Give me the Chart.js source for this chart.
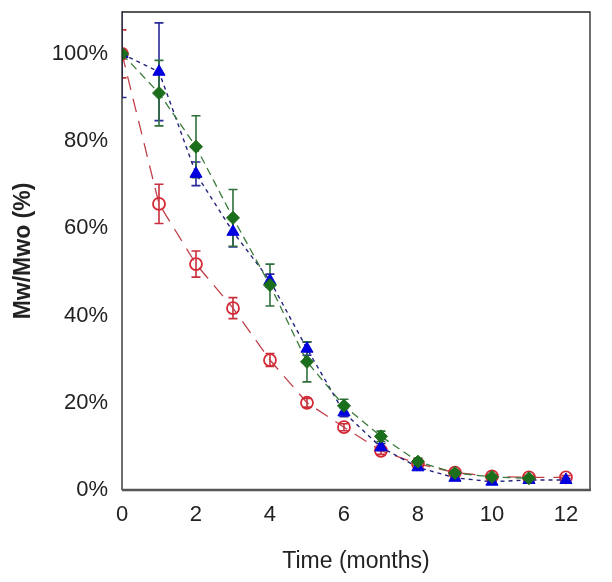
<!DOCTYPE html>
<html>
<head>
<meta charset="utf-8">
<script src="https://cdn.jsdelivr.net/npm/chart.js@4.4.0/dist/chart.umd.min.js"></script>
<style>
html,body{margin:0;padding:0;background:#fff;}
#wrap{width:612px;height:582px;}
</style>
</head>
<body>
<div id="wrap"><canvas id="c" width="612" height="582"></canvas></div>
<script>
const months = [0,1,2,3,4,5,6,7,8,9,10,11,12];
const redVals   = [100, 65.6, 51.8, 41.7, 29.8, 20.0, 14.4, 9.0, 6.0, 4.0, 3.1, 2.9, 2.9];
const redErr    = [5.5, 4.5, 3.0, 2.4, 1.5, 1.0, 0.8, 0.8, 0.5, 0.5, 0.4, 0.4, 0.4];
const blueVals  = [100, 95.9, 72.5, 59.2, 48.0, 32.4, 17.8, 9.8, 5.2, 2.8, 1.9, 2.3, 2.3];
const blueErr   = [10, 11.2, 2.7, 3.5, 1.5, 1.5, 1.0, 0.8, 0.5, 0.5, 0.4, 0.4, 0.4];
const greenVals = [100, 91.0, 78.7, 62.4, 47.0, 29.4, 19.3, 12.3, 6.5, 3.9, 3.0, 2.7, null];
const greenErr  = [1.0, 7.5, 7.1, 6.5, 4.8, 4.6, 1.5, 1.2, 0.8, 0.5, 0.4, 0.4, null];
const yTicks = [0,20,40,60,80,100];
const xTicks = [0,2,4,6,8,10,12];

function pts(vals){ return months.map((m,i)=>({x:m,y:vals[i]})); }

const errorBars = {
  id:'errorBars',
  beforeDatasetsDraw(chart){
    const ctx = chart.ctx, xs = chart.scales.x, ys = chart.scales.y, a = chart.chartArea;
    ctx.save();
    ctx.beginPath(); ctx.rect(a.left, a.top-1, a.right-a.left, a.bottom-a.top+2); ctx.clip();
    chart.data.datasets.forEach(ds=>{
      const errs = ds.errors;
      ds.data.forEach((p,i)=>{
        if(p.y==null || errs[i]==null) return;
        const px = xs.getPixelForValue(p.x);
        const top = ys.getPixelForValue(p.y+errs[i]);
        const bot = ys.getPixelForValue(p.y-errs[i]);
        ctx.strokeStyle = ds.errColor; ctx.lineWidth = 1.6; ctx.setLineDash([]);
        ctx.beginPath();
        ctx.moveTo(px, top); ctx.lineTo(px, bot);
        ctx.moveTo(px-4.5, top); ctx.lineTo(px+4.5, top);
        ctx.moveTo(px-4.5, bot); ctx.lineTo(px+4.5, bot);
        ctx.stroke();
      });
    });
    ctx.restore();
  }
};
const frame = {
  id:'frame',
  afterDraw(chart){
    const ctx = chart.ctx, a = chart.chartArea;
    ctx.save();
    ctx.setLineDash([]);
    ctx.strokeStyle = '#222'; ctx.lineWidth = 1.3;
    ctx.beginPath();
    ctx.moveTo(a.left, a.bottom); ctx.lineTo(a.left, a.top); ctx.lineTo(a.right, a.top); ctx.lineTo(a.right, a.bottom);
    ctx.stroke();
    ctx.strokeStyle = '#555'; ctx.lineWidth = 2.5;
    ctx.beginPath(); ctx.moveTo(a.left, a.bottom); ctx.lineTo(a.right+1, a.bottom); ctx.stroke();
    ctx.restore();
  }
};

new Chart(document.getElementById('c'), {
  type:'line',
  data:{
    datasets:[
      {label:'A', data:pts(redVals), errors:redErr, errColor:'#c8303c', order:3,
       borderColor:'#c0404a', borderWidth:1.3, borderDash:[14,9],
       pointStyle:'circle', pointRadius:6, pointBorderWidth:1.8,
       pointBorderColor:'#d42a36', pointBackgroundColor:'rgba(255,255,255,0)', fill:false, tension:0},
      {label:'B', data:pts(blueVals), errors:blueErr, errColor:'#2a2a9a', order:2,
       borderColor:'#22227a', borderWidth:1.4, borderDash:[4,4],
       pointStyle:'triangle', pointRadius:7, pointBorderWidth:1,
       pointBorderColor:'#0000d8', pointBackgroundColor:'#0000e0', fill:false, tension:0},
      {label:'C', data:pts(greenVals), errors:greenErr, errColor:'#2f6f3a', order:1,
       borderColor:'#3a7a3a', borderWidth:1.3, borderDash:[8,5],
       pointStyle:'rectRot', pointRadius:6.5, pointBorderWidth:1,
       pointBorderColor:'#1b6a1b', pointBackgroundColor:'#1b6e1b', fill:false, tension:0, spanGaps:false}
    ]
  },
  options:{
    responsive:false, animation:false, devicePixelRatio:1,
    layout:{padding:{top:12, right:22, left:0, bottom:0}},
    plugins:{legend:{display:false}, tooltip:{enabled:false}},
    scales:{
      x:{type:'linear', min:0, max:12.65,
         grid:{display:false, drawTicks:false}, border:{display:false},
         afterBuildTicks(s){ s.ticks = xTicks.map(v=>({value:v})); },
         afterFit(s){ s.height = 92; s.paddingLeft = 0; s.paddingRight = 0; },
         ticks:{padding:12, color:'#222', font:{family:'Liberation Sans, Arial', size:22}, callback:v=>String(v)},
         title:{display:true, text:'Time (months)', color:'#222', padding:{top:0,bottom:7},
                font:{family:'Liberation Sans, Arial', size:23}}},
      y:{type:'linear', min:0, max:109.6,
         grid:{display:false, drawTicks:false}, border:{display:false},
         afterBuildTicks(s){ s.ticks = yTicks.map(v=>({value:v})); },
         afterFit(s){ s.width = 122; s.paddingTop = 0; s.paddingBottom = 0; },
         ticks:{padding:14, color:'#222', font:{family:'Liberation Sans, Arial', size:22}, callback:v=>v+'%'},
         title:{display:true, text:'Mw/Mwo (%)', color:'#222', padding:{top:10,bottom:0},
                font:{family:'Liberation Sans, Arial', size:23, weight:'bold'}}}
    }
  },
  plugins:[errorBars, frame]
});
</script>
</body>
</html>
